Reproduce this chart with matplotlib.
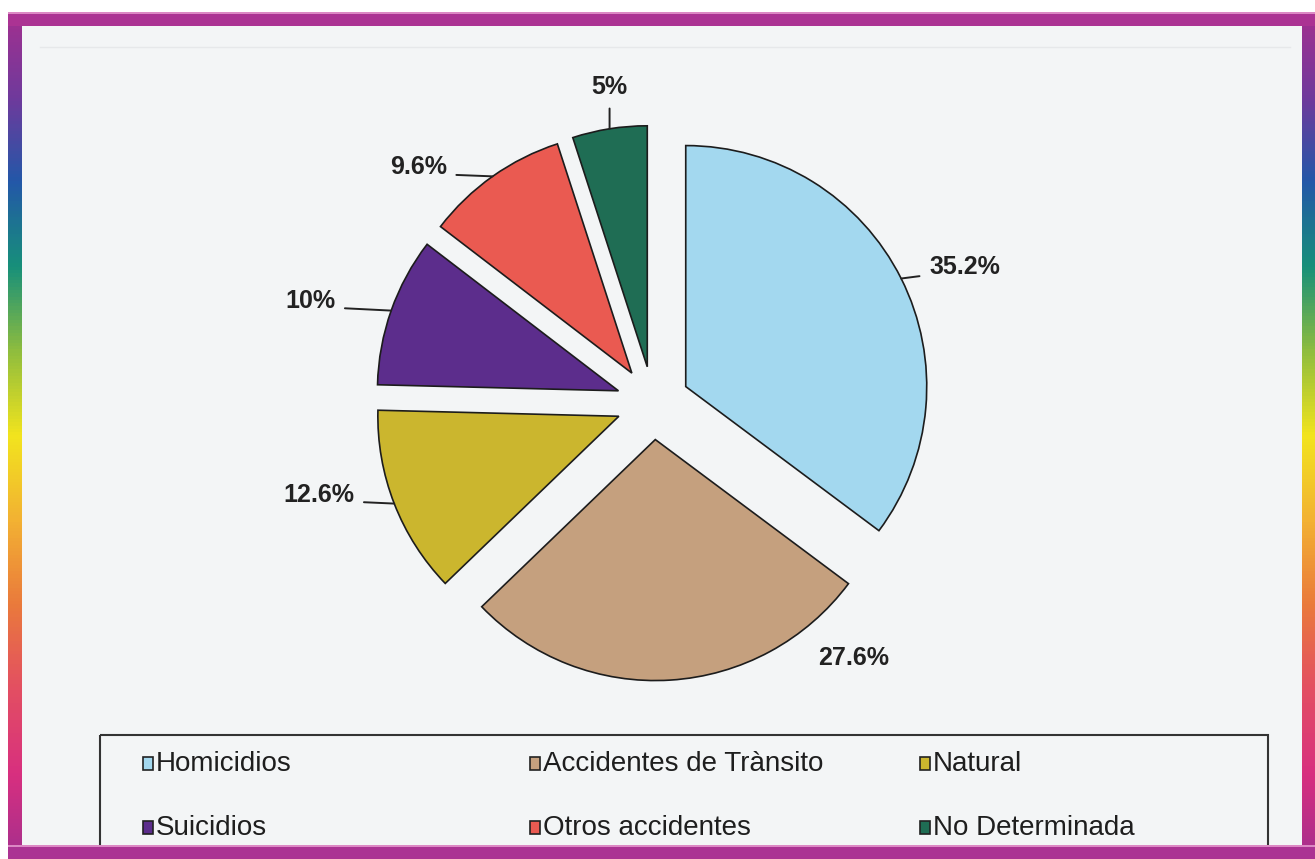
import numpy as np
import matplotlib.pyplot as plt
from matplotlib.colors import LinearSegmentedColormap
from matplotlib.patches import Rectangle

W, H = 1315, 859

# --- Data ---
categories = ["Homicidios", "Accidentes de Trànsito", "Natural",
              "Suicidios", "Otros accidentes", "No Determinada"]
shares = [35.2, 27.6, 12.6, 10.0, 9.6, 5.0]
pct_labels = ["35.2%", "27.6%", "12.6%", "10%", "9.6%", "5%"]
colors = ["#a3d8ef", "#c5a07e", "#cbb62e", "#5c2d8c", "#ea5a51", "#1f6d54"]

# label placement (pixels from the wedge's outer mid point), alignment, leader anchor
label_offsets = [(28, 12), (183, 22), (-40, 9), (-56, 10), (-46, 9), (0, 42)]
label_ha = ["left", "center", "right", "right", "right", "center"]
label_relpos = [(0, 0.15), None, (1, 0.2), (1, 0.2), (1, 0.2), (0.5, 0)]

frame_stops = ["#a3308f", "#6f3a9c", "#2358a8", "#17907a", "#8fbd3e", "#f2e41e",
               "#f3b233", "#ea7a3c", "#e34f62", "#d8307f", "#a52f8e"]

plt.rcParams['font.family'] = ['Liberation Sans', 'DejaVu Sans']

fig = plt.figure(figsize=(W / 100, H / 100), dpi=100)
fig.patch.set_facecolor("white")

# background, frame and legend drawn in pixel coordinates
bg = fig.add_axes([0, 0, 1, 1])
bg.set_xlim(0, W)
bg.set_ylim(H, 0)
bg.axis("off")

bg.add_patch(Rectangle((20, 24), 1285, 825, facecolor="#f3f5f6", edgecolor="none", zorder=0))
bg.plot([40, 1290], [47, 47], color="#e6e8ea", lw=1, zorder=1)

frame_cmap = LinearSegmentedColormap.from_list("frame", frame_stops)
grad = np.linspace(0, 1, 256).reshape(-1, 1)
for x0, x1 in [(8, 22), (1302, 1315)]:
    bg.imshow(grad, cmap=frame_cmap, aspect="auto", extent=(x0, x1, 859, 12), zorder=5)
for y0, y1 in [(12, 26), (845, 859)]:
    bg.add_patch(Rectangle((8, y0), 1307, y1 - y0, facecolor="#ab3393", edgecolor="none", zorder=6))
    bg.add_patch(Rectangle((8, y0), 1307, 2, facecolor="#dc88c4", edgecolor="none", zorder=6))

# legend
bg.add_patch(Rectangle((100, 735), 1168, 140, facecolor="none", edgecolor="#333333", lw=1.5, zorder=2))
col_x = [143, 530, 920]
row_y = [763, 827]
for i, name in enumerate(categories):
    x0 = col_x[i % 3]
    y0 = row_y[i // 3]
    bg.add_patch(Rectangle((x0, y0 - 6), 10, 13, facecolor=colors[i], edgecolor="#222222", lw=1.2, zorder=3))
    bg.text(x0 + 13, y0 + 1, name, fontsize=20, color="#1e1e1e", va="center", ha="left", zorder=3)

# --- Pie ---
cx, cy, r_px, half = 653, 403, 241, 300
ax = fig.add_axes([(cx - half) / W, (H - cy - half) / H, 2 * half / W, 2 * half / H])
ax.patch.set_alpha(0)
wedges, _ = ax.pie(shares, colors=colors, startangle=90, counterclock=False,
                   explode=[0.152] * len(shares), radius=1,
                   wedgeprops=dict(edgecolor="#1c1c1c", linewidth=1.2))
lim = half / r_px
ax.set_xlim(-lim, lim)
ax.set_ylim(-lim, lim)
ax.set_aspect("equal")
ax.axis("off")

for w, txt, off, ha, rel in zip(wedges, pct_labels, label_offsets, label_ha, label_relpos):
    mid = np.deg2rad((w.theta1 + w.theta2) / 2)
    px = w.center[0] + w.r * np.cos(mid)
    py = w.center[1] + w.r * np.sin(mid)
    arrow = None
    if rel is not None:
        arrow = dict(arrowstyle="-", color="#222222", lw=1.4, shrinkA=5, shrinkB=0, relpos=rel)
    ax.annotate(txt, xy=(px, py), xytext=off, textcoords="offset pixels",
                ha=ha, va="center", fontsize=18, fontweight="bold", color="#222222",
                arrowprops=arrow)

fig.savefig("out.png", dpi=100, facecolor=fig.get_facecolor())
